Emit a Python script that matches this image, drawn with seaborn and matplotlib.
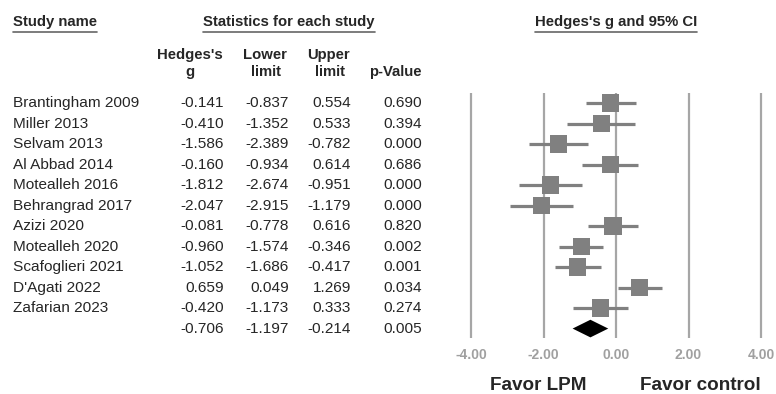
import matplotlib
matplotlib.use("Agg")
import matplotlib.pyplot as plt
import matplotlib.transforms as mtransforms
from matplotlib.lines import Line2D
import seaborn as sns
import pandas as pd

studies = ["Brantingham 2009", "Miller 2013", "Selvam 2013", "Al Abbad 2014",
           "Motealleh 2016", "Behrangrad 2017", "Azizi 2020", "Motealleh 2020",
           "Scafoglieri 2021", "D'Agati 2022", "Zafarian 2023"]
hedges_g = [-0.141, -0.410, -1.586, -0.160, -1.812, -2.047, -0.081, -0.960, -1.052, 0.659, -0.420]
lower = [-0.837, -1.352, -2.389, -0.934, -2.674, -2.915, -0.778, -1.574, -1.686, 0.049, -1.173]
upper = [0.554, 0.533, -0.782, 0.614, -0.951, -1.179, 0.616, -0.346, -0.417, 1.269, 0.333]
p_values = [0.690, 0.394, 0.000, 0.686, 0.000, 0.000, 0.820, 0.002, 0.001, 0.034, 0.274]
summary_g, summary_lower, summary_upper, summary_p = -0.706, -1.197, -0.214, 0.005
x_ticks = [-4, -2, 0, 2, 4]
x_tick_labels = ["-4.00", "-2.00", "0.00", "2.00", "4.00"]

sns.set_style("white")
plt.rcParams["font.family"] = ["Liberation Sans", "DejaVu Sans"]

W, H = 776, 394
fig = plt.figure(figsize=(W / 100, H / 100), dpi=100)

def fx(px):
    return px / W

def fy(py):
    return 1 - py / H

# forest axes
ppu = 36.25
x0 = 471 - 0.1 * ppu
ax = fig.add_axes([fx(x0), fy(338), (8.2 * ppu) / W, (338 - 93) / H])
ax.set_xlim(-4.1, 4.1)
for s in ax.spines.values():
    s.set_visible(False)
for t in x_ticks:
    ax.axvline(t, color="#a6a6a6", lw=1.6, zorder=0)

df = pd.DataFrame({"study": studies, "g": hedges_g, "lo": lower, "hi": upper,
                   "row": list(range(len(studies)))})
ax.hlines(df["row"], df["lo"], df["hi"], color="#808080", lw=2.3, zorder=2)
sns.scatterplot(data=df, x="g", y="row", marker="s", s=12.4 ** 2, color="#808080",
                edgecolor="none", linewidth=0, ax=ax, legend=False, zorder=3)
srow = len(studies)
h = 0.43
ax.fill([summary_lower, summary_g, summary_upper, summary_g],
        [srow, srow - h, srow, srow + h], color="black", zorder=4, lw=0)
ax.set_ylim(11.46, -0.49)
ax.set_yticks([])
ax.set_xticks(x_ticks)
ax.set_xticklabels(x_tick_labels, color="#a0a0a0", fontsize=10, fontweight="bold")
ax.tick_params(axis="x", length=0, pad=7)
ax.set_xlabel("")
ax.set_ylabel("")

trans = mtransforms.blended_transform_factory(fig.transFigure, ax.transData)
fs = 11.1
for i, name in enumerate(studies):
    fig.text(fx(13), i, name, transform=trans, ha="left", va="center", fontsize=fs)
    fig.text(fx(224), i, f"{hedges_g[i]:.3f}", transform=trans, ha="right", va="center", fontsize=fs)
    fig.text(fx(289), i, f"{lower[i]:.3f}", transform=trans, ha="right", va="center", fontsize=fs)
    fig.text(fx(351), i, f"{upper[i]:.3f}", transform=trans, ha="right", va="center", fontsize=fs)
    fig.text(fx(422), i, f"{p_values[i]:.3f}", transform=trans, ha="right", va="center", fontsize=fs)
fig.text(fx(224), srow, f"{summary_g:.3f}", transform=trans, ha="right", va="center", fontsize=fs)
fig.text(fx(289), srow, f"{summary_lower:.3f}", transform=trans, ha="right", va="center", fontsize=fs)
fig.text(fx(351), srow, f"{summary_upper:.3f}", transform=trans, ha="right", va="center", fontsize=fs)
fig.text(fx(422), srow, f"{summary_p:.3f}", transform=trans, ha="right", va="center", fontsize=fs)

# column headers
hfs = 10.7
hdr = dict(fontsize=hfs, fontweight="bold", va="center")
fig.text(fx(190), fy(55), "Hedges's", ha="center", **hdr)
fig.text(fx(190), fy(72), "g", ha="center", **hdr)
fig.text(fx(265), fy(55), "Lower", ha="center", **hdr)
fig.text(fx(266), fy(72), "limit", ha="center", **hdr)
fig.text(fx(328), fy(55), "Upper", ha="center", **hdr)
fig.text(fx(330), fy(72), "limit", ha="center", **hdr)
fig.text(fx(395), fy(72), "p-Value", ha="center", **hdr)

# top headers with underline
renderer = fig.canvas.get_renderer()
tops = [
    (fx(13), "left", "Study name"),
    (fx(289), "center", "Statistics for each study"),
    (fx(616), "center", "Hedges's g and 95% CI"),
]
for x, ha, label in tops:
    t = fig.text(x, fy(22), label, ha=ha, va="center", fontsize=hfs, fontweight="bold")
    bb = t.get_window_extent(renderer=renderer)
    fig.add_artist(Line2D([bb.x0 / W, bb.x1 / W], [fy(32), fy(32)],
                          transform=fig.transFigure, color="#666666", lw=1.2))

fig.text(fx(538), fy(386), "Favor LPM", ha="center", va="center", fontsize=13.6, fontweight="bold")
fig.text(fx(700), fy(386), "Favor control", ha="center", va="center", fontsize=13.6, fontweight="bold")

fig.savefig("out.png", dpi=100)
